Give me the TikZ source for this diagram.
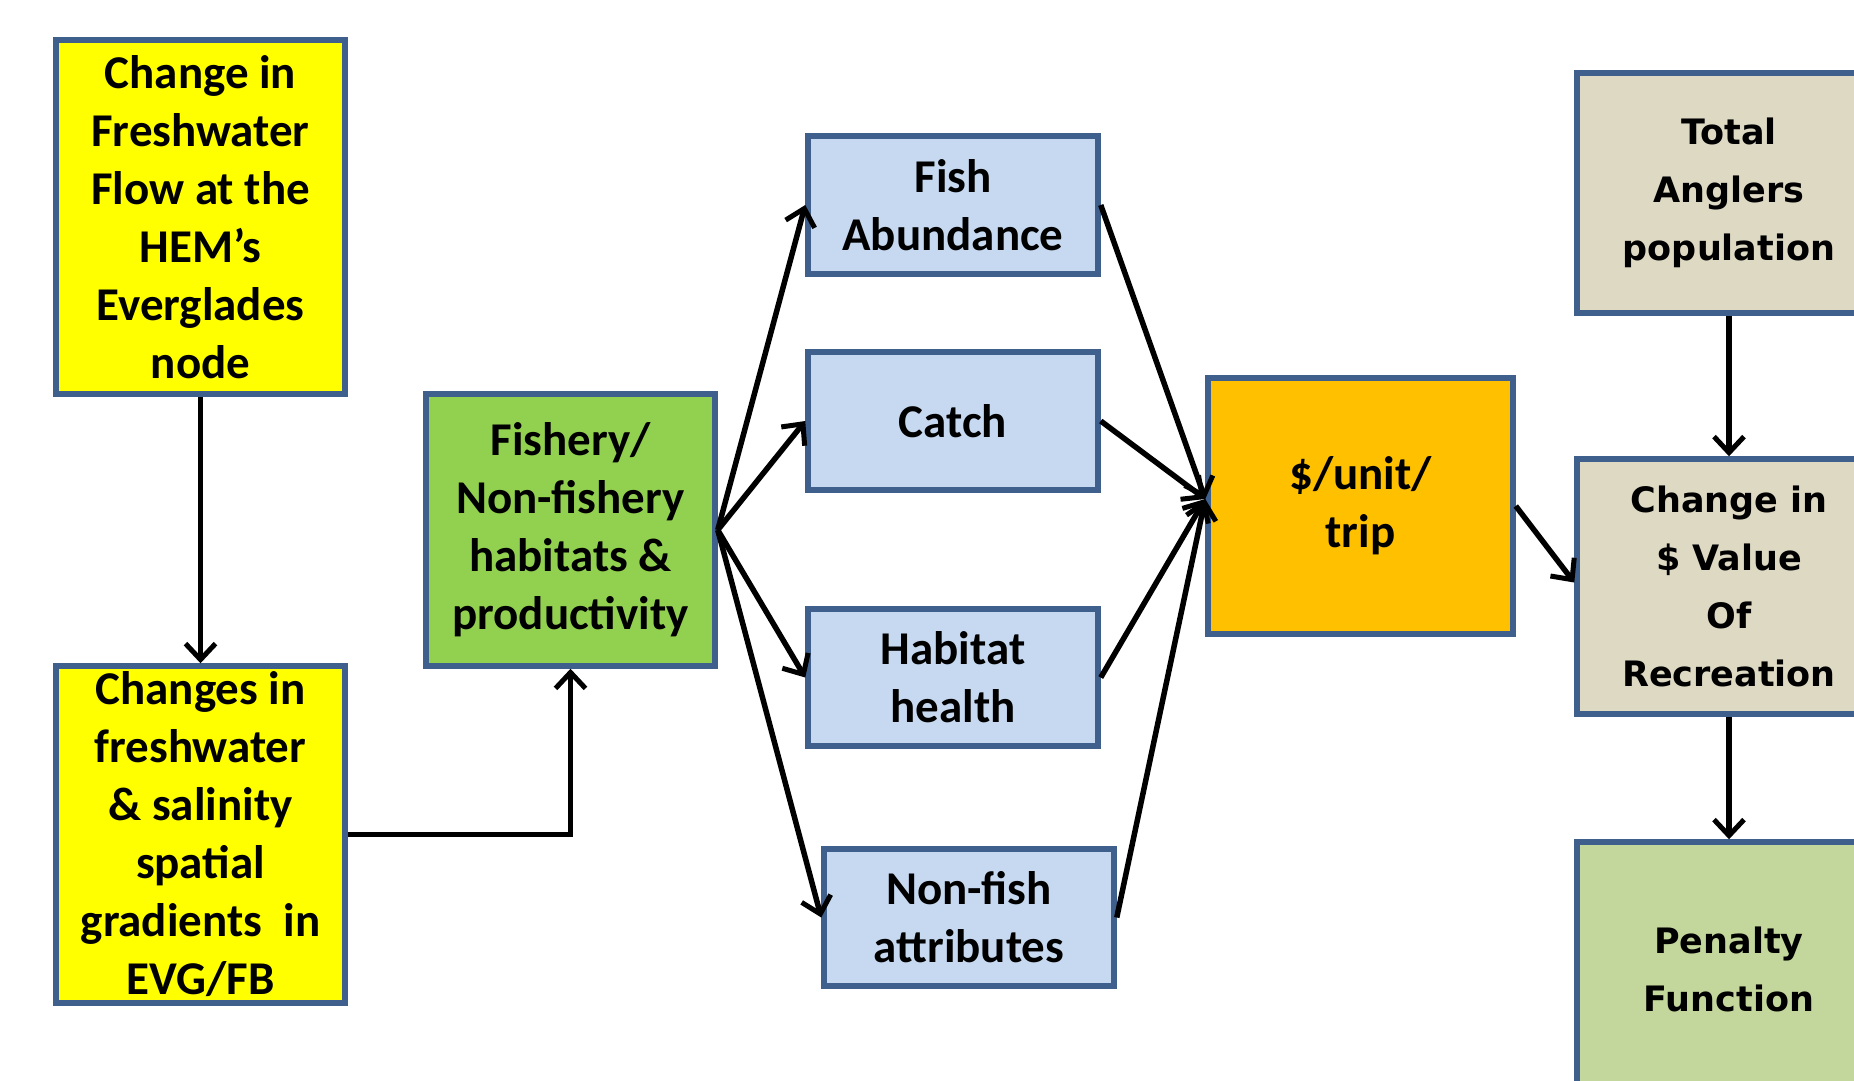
\documentclass[tikz,border=0pt]{standalone}
\usepackage{fontspec}
\setmainfont{Carlito}
\newfontfamily\verd{DejaVu Sans}
\usetikzlibrary{arrows.meta}
\definecolor{boxborder}{HTML}{3F5F8C}
\definecolor{yel}{HTML}{FFFF00}
\definecolor{grn}{HTML}{92D050}
\definecolor{lblue}{HTML}{C6D9F1}
\definecolor{orng}{HTML}{FFC000}
\definecolor{tan}{HTML}{DDD9C3}
\definecolor{pgreen}{HTML}{C3D69B}
\begin{document}
\begin{tikzpicture}[x=1pt,y=-1pt,
  box/.style={draw=boxborder, line width=5.5pt, align=center, inner sep=0pt, text=black,
              font=\fontsize{47}{58}\selectfont\bfseries},
  rbox/.style={box, fill=tan, minimum width=304pt,
              font=\verd\fontsize{35}{58}\selectfont\bfseries},
  conn/.style={line width=5.5pt, black, -{Straight Barb[length=16pt,width=30pt,line width=5pt]}}
]
\useasboundingbox (0,0) rectangle (1854,1080);
\clip (0,0) rectangle (1854,1080);
\fill[white] (0,0) rectangle (1854,1080);

\node[box, fill=yel, minimum width=289pt, minimum height=354pt] (A) at (200.5,217)
  {Change in\\Freshwater\\Flow at the\\HEM’s\\Everglades\\node};
\node[box, fill=yel, minimum width=289pt, minimum height=337pt] (B) at (200.5,834.5)
  {Changes in\\freshwater\\\& salinity\\spatial\\gradients~ in\\EVG/FB};
\node[box, fill=grn, minimum width=289pt, minimum height=272pt] (C) at (570.5,530)
  {Fishery/\\Non-fishery\\habitats \&\\productivity};
\node[box, fill=lblue, minimum width=290pt, minimum height=138pt] (F) at (953,205)
  {Fish\\Abundance};
\node[box, fill=lblue, minimum width=290pt, minimum height=138pt] (K) at (953,421)
  {Catch};
\node[box, fill=lblue, minimum width=290pt, minimum height=137pt] (H) at (953,677.5)
  {Habitat\\health};
\node[box, fill=lblue, minimum width=290pt, minimum height=137pt] (N) at (969,917.5)
  {Non-fish\\attributes};
\node[box, fill=orng, minimum width=305pt, minimum height=256pt] (D) at (1360.5,506)
  {\$/unit/\\trip};
\node[rbox, minimum height=240pt] (T) at (1729,193)
  {Total\\Anglers\\population};
\node[rbox, minimum height=255pt] (V) at (1729,586.5)
  {Change in\\\$ Value\\Of\\Recreation};
\node[rbox, fill=pgreen, minimum height=255pt] (P) at (1729,969.5)
  {Penalty\\Function};

\coordinate (Din) at ([yshift=7pt]D.west);
\coordinate (Vin) at ([yshift=4pt]V.west);

\draw[conn] (A.south) -- (B.north);
\draw[conn] (B.east) -| (C.south);
\draw[conn] (C.east) -- (F.west);
\draw[conn] (C.east) -- (K.west);
\draw[conn] (C.east) -- (H.west);
\draw[conn] (C.east) -- (N.west);
\draw[conn] (F.east) -- (Din);
\draw[conn] (K.east) -- (Din);
\draw[conn] (H.east) -- (Din);
\draw[conn] (N.east) -- (Din);
\draw[conn] (D.east) -- (Vin);
\draw[conn] (T.south) -- (V.north);
\draw[conn] (V.south) -- (P.north);
\end{tikzpicture}
\end{document}
